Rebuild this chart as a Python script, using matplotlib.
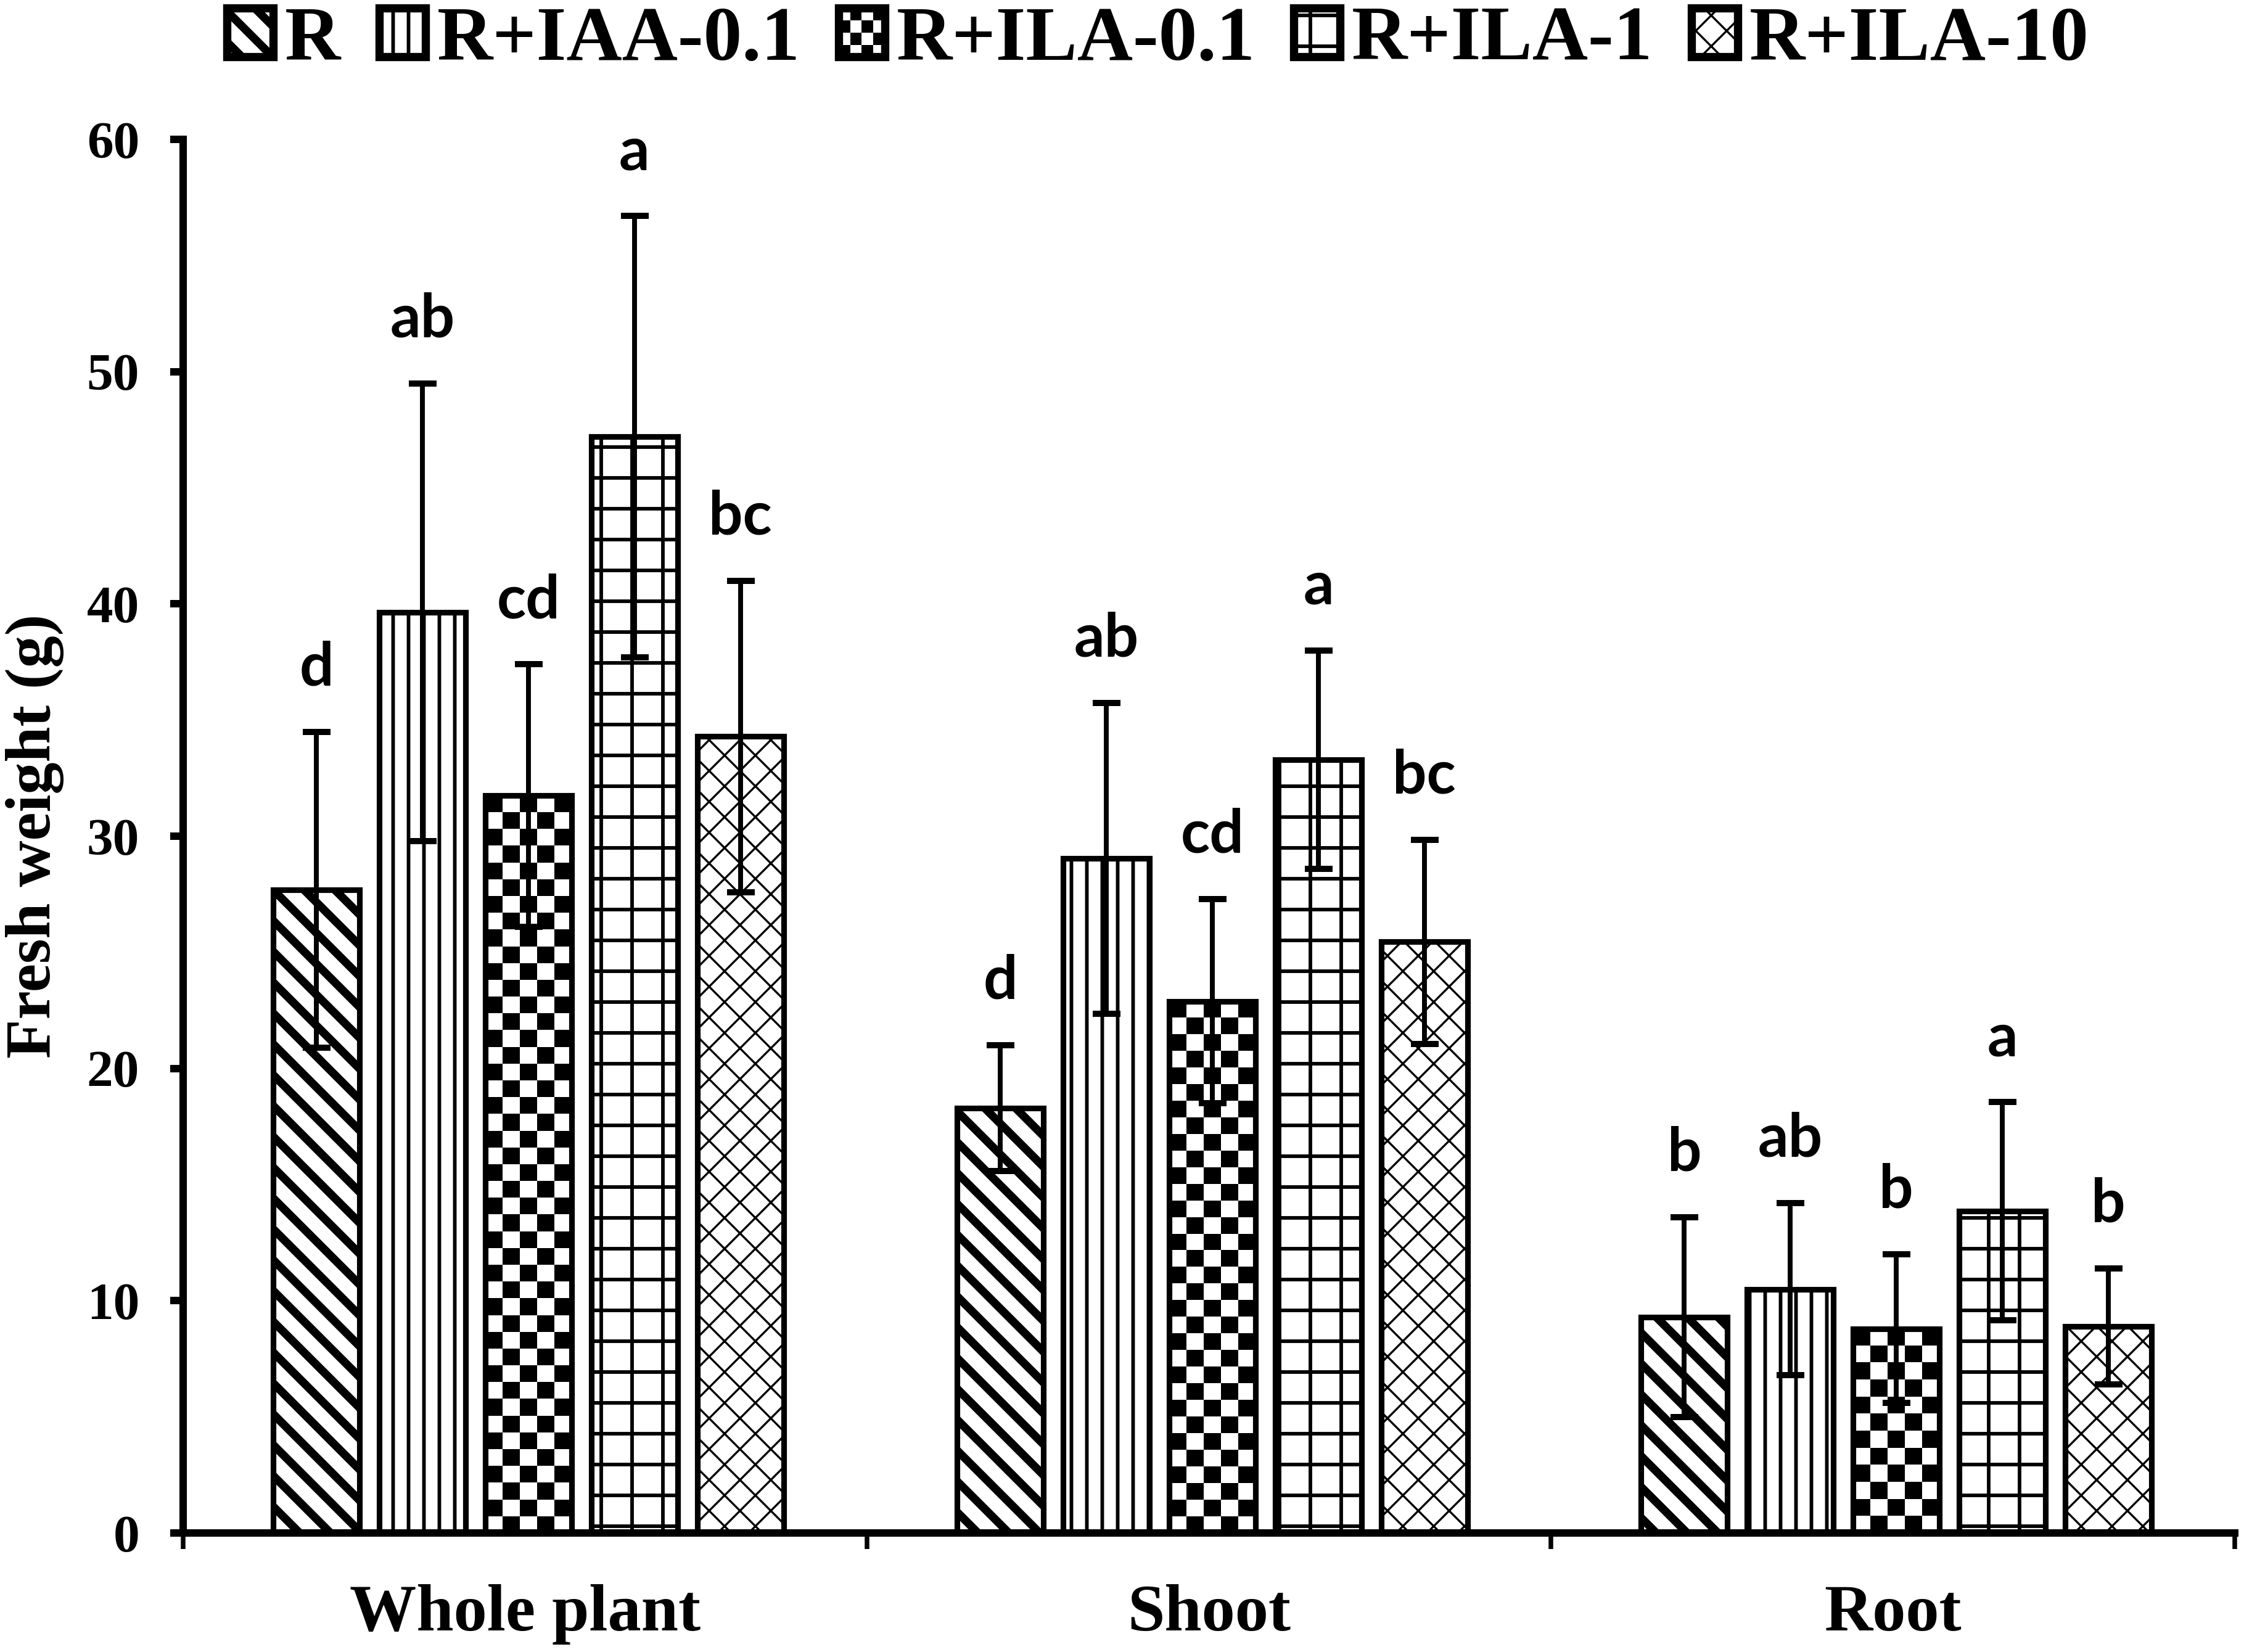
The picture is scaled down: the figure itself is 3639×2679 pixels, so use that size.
import matplotlib
matplotlib.use("Agg")
import matplotlib.pyplot as plt
import numpy as np
from matplotlib.patches import Rectangle
from matplotlib.legend_handler import HandlerBase

# Data
groups = ["Whole plant", "Shoot", "Root"]
treatments = ["R", "R+IAA-0.1", "R+ILA-0.1", "R+ILA-1", "R+ILA-10"]

mean_R = [27.7, 18.3, 9.3]
mean_IAA01 = [39.65, 29.05, 10.5]
mean_ILA01 = [31.75, 22.9, 8.8]
mean_ILA1 = [47.2, 33.3, 13.85]
mean_ILA10 = [34.3, 25.45, 8.9]

err_R = [6.8, 2.7, 4.3]
err_IAA01 = [9.85, 6.7, 3.7]
err_ILA01 = [5.65, 4.4, 3.2]
err_ILA1 = [9.5, 4.7, 4.7]
err_ILA10 = [6.7, 4.4, 2.5]

letters_R = ["d", "d", "b"]
letters_IAA01 = ["ab", "ab", "ab"]
letters_ILA01 = ["cd", "cd", "b"]
letters_ILA1 = ["a", "a", "a"]
letters_ILA10 = ["bc", "bc", "b"]

means = [mean_R, mean_IAA01, mean_ILA01, mean_ILA1, mean_ILA10]
errs = [err_R, err_IAA01, err_ILA01, err_ILA1, err_ILA10]
letters = [letters_R, letters_IAA01, letters_ILA01, letters_ILA1, letters_ILA10]

# hatch style per treatment (None -> checkerboard drawn separately)
hatches = ["\\\\", "||", None, "+", "xx"]
hatch_lw = [3.2, 1.4, 1.0, 1.4, 0.8]

serif = ["Liberation Serif", "DejaVu Serif"]
plt.rcParams["font.family"] = serif
plt.rcParams["font.weight"] = "bold"

fig = plt.figure(figsize=(12.13, 8.93), dpi=300)
ax = fig.add_axes([0.0816, 0.072, 0.9143, 0.8436])
ax.set_xlim(-0.5, 2.5)
ax.set_ylim(0, 60)

x = np.arange(len(groups))
width = 0.126
step = 0.155
edge_lw = 2.2


def checker_fill(patch, cell_px=27):
    # checkerboard image clipped to a bar
    x0, y0 = patch.get_x(), patch.get_y()
    x1, y1 = x0 + patch.get_width(), y0 + patch.get_height()
    p0 = ax.transData.transform((x0, y0))
    p1 = ax.transData.transform((x1, y1))
    nx = max(1, int(round(abs(p1[0] - p0[0]) / cell_px)))
    ny = max(1, int(round(abs(p1[1] - p0[1]) / cell_px)))
    board = np.indices((ny, nx)).sum(axis=0) % 2
    ax.imshow(board, cmap="gray", extent=(x0, x1, y0, y1), origin="upper",
              interpolation="nearest", aspect="auto", zorder=1.5,
              clip_path=patch)


handles = []
for j in range(len(treatments)):
    pos = x + (j - 2) * step + 0.005
    if hatches[j] is None:
        base = ax.bar(pos, means[j], width, color="white", edgecolor="none",
                      zorder=1)
        for p in base:
            checker_fill(p)
        bars = ax.bar(pos, means[j], width, facecolor="none",
                      edgecolor="black", linewidth=edge_lw, zorder=2,
                      label=treatments[j])
    else:
        bars = ax.bar(pos, means[j], width, color="white", edgecolor="black",
                      linewidth=edge_lw, hatch=hatches[j], zorder=2,
                      label=treatments[j])
        for p in bars:
            p.set_hatch_linewidth(hatch_lw[j])
    handles.append(bars)
    ax.errorbar(pos, means[j], yerr=errs[j], fmt="none", ecolor="black",
                elinewidth=1.9, capsize=5.4, capthick=2.4, zorder=3)
    for k in range(len(groups)):
        ax.text(pos[k], means[j][k] + errs[j][k] + 2.0, letters[j][k],
                ha="center", va="baseline", fontsize=23.5, fontweight="bold",
                family=["Lato", "DejaVu Sans"], zorder=4)

ax.set_xlim(-0.5, 2.5)
ax.set_ylim(0, 60)

# axes styling
for s in ["top", "right"]:
    ax.spines[s].set_visible(False)
ax.spines["left"].set_linewidth(2.9)
ax.spines["bottom"].set_linewidth(2.9)

ax.set_yticks(np.arange(0, 61, 10))
ax.tick_params(axis="y", direction="out", length=5, width=2.9, pad=12,
               labelsize=20.5)
ax.set_xticks([-0.5, 0.5, 1.5, 2.5])
ax.set_xticklabels([])
ax.tick_params(axis="x", which="major", direction="out", length=6.2, width=1.8)
ax.set_xticks(x, minor=True)
ax.set_xticklabels(groups, minor=True, fontsize=26, fontweight="bold")
ax.tick_params(axis="x", which="minor", length=0, pad=20)

ax.set_ylabel("Fresh weight (g)", fontsize=25, fontweight="bold")
ax.yaxis.set_label_coords(-0.058, 0.5)


class CheckerHandler(HandlerBase):
    def create_artists(self, legend, orig_handle, xdescent, ydescent,
                       width, height, fontsize, trans):
        arts = []
        n = 4
        cw, ch = width / n, height / n
        arts.append(Rectangle((-xdescent, -ydescent), width, height,
                              facecolor="white", edgecolor="none",
                              transform=trans))
        for i in range(n):
            for k in range(n):
                if (i + k) % 2 == 0:
                    arts.append(Rectangle((-xdescent + i * cw, -ydescent + k * ch),
                                          cw, ch, facecolor="black",
                                          edgecolor="none", transform=trans))
        arts.append(Rectangle((-xdescent, -ydescent), width, height,
                              facecolor="none", edgecolor="black",
                              linewidth=3.2, transform=trans))
        return arts


leg = fig.legend(handles, treatments, loc="upper center",
                 bbox_to_anchor=(0.516, 1.022), ncol=5, frameon=False,
                 prop={"family": serif, "weight": "bold", "size": 30},
                 handlelength=0.6, handleheight=0.6, handletextpad=0.15,
                 columnspacing=0.5, borderpad=0.05,
                 handler_map={handles[2]: CheckerHandler()})
for h, lw in zip(leg.legend_handles, hatch_lw):
    if isinstance(h, Rectangle):
        h.set_linewidth(3.2)
        h.set_hatch_linewidth(lw)

fig.savefig("out.png", dpi=300)
